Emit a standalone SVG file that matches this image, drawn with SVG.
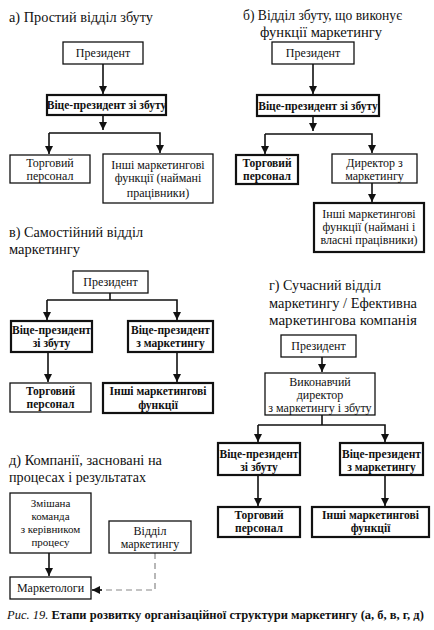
<svg xmlns="http://www.w3.org/2000/svg" width="434" height="630" viewBox="0 0 434 630">
<style>
.bg{fill:#fff}
.box{fill:#fff;stroke:#111;stroke-width:1.3}
.bx{fill:#fff;stroke:#111;stroke-width:2.2}
text{font-family:"Liberation Serif","DejaVu Serif","Times New Roman",serif;fill:#111}
.t{font-size:12px;text-anchor:middle}
.ts{font-size:11px;text-anchor:middle}
.tb{font-size:11.5px;font-weight:bold;text-anchor:middle}
.h{font-size:15px}
.c{fill:none;stroke:#111;stroke-width:1.6}
.d{fill:none;stroke:#888;stroke-width:1.2;stroke-dasharray:6 4}
.cap{font-size:12.5px}
</style>
<defs>
<marker id="ah" viewBox="0 0 10 10" refX="10" refY="5" markerWidth="5" markerHeight="6" markerUnits="strokeWidth" orient="auto">
<path d="M0,0 L10,5 L0,10 Z" fill="#111"/>
</marker>
</defs>
<rect class="bg" width="434" height="630"/>

<g id="titles">
<text class="h" x="9" y="22" textLength="144" lengthAdjust="spacingAndGlyphs">а) Простий відділ збуту</text>
<text class="h" x="243" y="20" textLength="159" lengthAdjust="spacingAndGlyphs">б) Відділ збуту, що виконує</text>
<text class="h" x="260" y="37" textLength="122" lengthAdjust="spacingAndGlyphs">функції маркетингу</text>
<text class="h" x="9" y="237" textLength="134" lengthAdjust="spacingAndGlyphs">в) Самостійний відділ</text>
<text class="h" x="9" y="254" textLength="71" lengthAdjust="spacingAndGlyphs">маркетингу</text>
<text class="h" x="269" y="290" textLength="112" lengthAdjust="spacingAndGlyphs">г) Сучасний відділ</text>
<text class="h" x="269" y="308" textLength="148" lengthAdjust="spacingAndGlyphs">маркетингу / Ефективна</text>
<text class="h" x="269" y="325" textLength="148" lengthAdjust="spacingAndGlyphs">маркетингова компанія</text>
<text class="h" x="9" y="465" textLength="153" lengthAdjust="spacingAndGlyphs">д) Компанії, засновані на</text>
<text class="h" x="9" y="482" textLength="137" lengthAdjust="spacingAndGlyphs">процесах і результатах</text>
</g>

<g id="connectors">
<line class="c" x1="103" y1="64" x2="103" y2="94" marker-end="url(#ah)"/>
<line class="c" x1="103" y1="115" x2="103" y2="130" marker-end="url(#ah)"/>
<polyline class="c" points="49,133 160,133 160,153" marker-end="url(#ah)"/>
<line class="c" x1="49" y1="133" x2="49" y2="154" marker-end="url(#ah)"/>
<line class="c" x1="313" y1="64" x2="313" y2="94" marker-end="url(#ah)"/>
<line class="c" x1="313" y1="116" x2="313" y2="131" marker-end="url(#ah)"/>
<polyline class="c" points="265,134 372,134 372,153" marker-end="url(#ah)"/>
<line class="c" x1="265" y1="134" x2="265" y2="154" marker-end="url(#ah)"/>
<line class="c" x1="372" y1="183" x2="372" y2="202" marker-end="url(#ah)"/>
<line class="c" x1="110" y1="293" x2="110" y2="300"/>
<polyline class="c" points="47,300 177,300 177,320" marker-end="url(#ah)"/>
<line class="c" x1="47" y1="300" x2="47" y2="320" marker-end="url(#ah)"/>
<line class="c" x1="48" y1="352" x2="48" y2="382" marker-end="url(#ah)"/>
<line class="c" x1="177" y1="352" x2="177" y2="382" marker-end="url(#ah)"/>
<line class="c" x1="322" y1="357" x2="322" y2="372" marker-end="url(#ah)"/>
<line class="c" x1="322" y1="415" x2="322" y2="425"/>
<polyline class="c" points="258,425 385,425 385,442" marker-end="url(#ah)"/>
<line class="c" x1="258" y1="425" x2="258" y2="442" marker-end="url(#ah)"/>
<line class="c" x1="258" y1="475" x2="258" y2="506" marker-end="url(#ah)"/>
<line class="c" x1="385" y1="475" x2="385" y2="506" marker-end="url(#ah)"/>
<line class="c" x1="49" y1="553" x2="49" y2="576" marker-end="url(#ah)"/>
<polyline class="d" points="155,553 155,590 100,590"/>
<line class="c" x1="102" y1="590" x2="92" y2="590" marker-end="url(#ah)"/>
</g>

<g id="a-president"><rect class="box" x="63" y="42" width="80" height="22"/><text class="t" x="103" y="57">Президент</text></g>
<g id="a-vp"><rect class="bx" x="47" y="95" width="119" height="20"/><text class="tb" x="106.5" y="109">Віце-президент зі збуту</text></g>
<g id="a-sales"><rect class="box" x="10" y="155" width="80" height="28"/><text class="t" x="50" y="167">Торговий</text><text class="t" x="50" y="180">персонал</text></g>
<g id="a-other"><rect class="box" x="103" y="154" width="110" height="49"/><text class="t" x="158" y="169">Інші маркетингові</text><text class="t" x="158" y="182">функції (наймані</text><text class="t" x="158" y="197">працівники)</text></g>

<g id="b-president"><rect class="box" x="272" y="42" width="82" height="22"/><text class="t" x="313" y="57">Президент</text></g>
<g id="b-vp"><rect class="bx" x="257" y="95" width="122" height="21"/><text class="tb" x="318" y="110">Віце-президент зі збуту</text></g>
<g id="b-sales"><rect class="bx" x="236" y="155" width="62" height="29"/><text class="tb" x="267" y="167">Торговий</text><text class="tb" x="267" y="180">персонал</text></g>
<g id="b-director"><rect class="box" x="332" y="154" width="85" height="29"/><text class="t" x="374.5" y="167">Директор з</text><text class="t" x="374.5" y="180">маркетингу</text></g>
<g id="b-other"><rect class="bx" x="314" y="203" width="110" height="49"/><text class="t" x="369" y="218">Інші маркетингові</text><text class="t" x="369" y="231">функції (наймані і</text><text class="t" x="369" y="244">власні працівники)</text></g>

<g id="v-president"><rect class="box" x="73" y="271" width="75" height="22"/><text class="t" x="110.5" y="286">Президент</text></g>
<g id="v-vp-sales"><rect class="bx" x="11" y="321" width="81" height="31"/><text class="tb" x="51.5" y="334">Віце-президент</text><text class="tb" x="51.5" y="347">зі збуту</text></g>
<g id="v-vp-mkt"><rect class="bx" x="128" y="321" width="85" height="31"/><text class="tb" x="170.5" y="334">Віце-президент</text><text class="tb" x="170.5" y="347">з маркетингу</text></g>
<g id="v-sales"><rect class="box" x="10" y="383" width="81" height="29"/><text class="tb" x="50.5" y="395">Торговий</text><text class="tb" x="50.5" y="408">персонал</text></g>
<g id="v-other"><rect class="bx" x="103" y="383" width="110" height="30"/><text class="tb" x="158" y="395">Інші маркетингові</text><text class="tb" x="158" y="409">функції</text></g>

<g id="g-president"><rect class="box" x="281" y="335" width="75" height="22"/><text class="t" x="318.5" y="350">Президент</text></g>
<g id="g-exec"><rect class="box" x="265" y="373" width="110" height="42"/><text class="t" x="320" y="386">Виконавчий</text><text class="t" x="320" y="399">директор</text><text class="t" x="320" y="412">з маркетингу і збуту</text></g>
<g id="g-vp-sales"><rect class="bx" x="218" y="443" width="82" height="32"/><text class="tb" x="259" y="458">Віце-президент</text><text class="tb" x="259" y="471">зі збуту</text></g>
<g id="g-vp-mkt"><rect class="bx" x="340" y="443" width="83" height="32"/><text class="tb" x="381.5" y="458">Віце-президент</text><text class="tb" x="381.5" y="471">з маркетингу</text></g>
<g id="g-sales"><rect class="bx" x="218" y="507" width="82" height="30"/><text class="tb" x="259" y="519">Торговий</text><text class="tb" x="259" y="532">персонал</text></g>
<g id="g-other"><rect class="bx" x="312" y="507" width="117" height="30"/><text class="tb" x="370.5" y="519">Інші маркетингові</text><text class="tb" x="370.5" y="532">функції</text></g>

<g id="d-team"><rect class="box" x="10" y="493" width="81" height="60"/><text class="ts" x="50.5" y="507">Змішана</text><text class="ts" x="50.5" y="520">команда</text><text class="ts" x="50.5" y="533">з керівником</text><text class="ts" x="50.5" y="546">процесу</text></g>
<g id="d-dept"><rect class="box" x="109" y="521" width="82" height="32"/><text class="t" x="150" y="535">Відділ</text><text class="t" x="150" y="548">маркетингу</text></g>
<g id="d-marketers"><rect class="box" x="10" y="577" width="81" height="22"/><text class="t" x="50.5" y="592">Маркетологи</text></g>

<g id="caption"><text class="cap" x="7" y="619"><tspan font-style="italic">Рис. 19.</tspan> <tspan font-weight="bold">Етапи розвитку організаційної структури маркетингу (а, б, в, г, д)</tspan></text></g>
</svg>
